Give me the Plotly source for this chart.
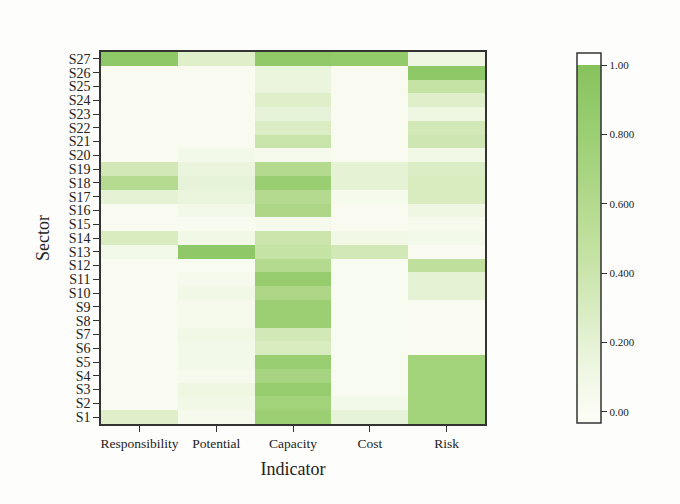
import plotly.graph_objects as go

indicators = ["Responsibility", "Potential", "Capacity", "Cost", "Risk"]
sectors = [f"S{i}" for i in range(1, 28)]

# Scores per indicator, listed S1 .. S27
responsibility = [0.25, 0.02, 0.02, 0.02, 0.02, 0.02, 0.02, 0.02, 0.02, 0.02,
                  0.02, 0.02, 0.08, 0.30, 0.02, 0.02, 0.20, 0.58, 0.35, 0.02,
                  0.02, 0.02, 0.02, 0.02, 0.02, 0.02, 0.92]
potential = [0.05, 0.10, 0.12, 0.05, 0.08, 0.08, 0.10, 0.05, 0.05, 0.10,
             0.05, 0.03, 0.92, 0.10, 0.03, 0.08, 0.15, 0.18, 0.15, 0.08,
             0.02, 0.02, 0.02, 0.02, 0.02, 0.02, 0.25]
capacity = [0.80, 0.75, 0.85, 0.70, 0.82, 0.30, 0.35, 0.80, 0.80, 0.65,
            0.85, 0.60, 0.45, 0.40, 0.05, 0.65, 0.60, 0.82, 0.60, 0.05,
            0.42, 0.28, 0.18, 0.25, 0.15, 0.15, 0.90]
cost = [0.18, 0.08, 0.03, 0.03, 0.03, 0.03, 0.03, 0.03, 0.03, 0.03,
        0.03, 0.03, 0.35, 0.10, 0.02, 0.02, 0.05, 0.20, 0.20, 0.02,
        0.02, 0.02, 0.02, 0.02, 0.02, 0.02, 0.88]
risk = [0.75, 0.75, 0.75, 0.75, 0.75, 0.02, 0.02, 0.02, 0.02, 0.20,
        0.20, 0.50, 0.02, 0.08, 0.05, 0.12, 0.30, 0.30, 0.28, 0.10,
        0.38, 0.35, 0.12, 0.25, 0.45, 0.92, 0.12]

cbar_ticks = [0.0, 0.2, 0.4, 0.6, 0.8, 1.0]
cbar_labels = ["0.00", "0.200", "0.400", "0.600", "0.800", "1.00"]

z = [list(row) for row in zip(responsibility, potential, capacity, cost, risk)]

zmin, zmax = -0.032, 1.035

greens = ["#fbfcf4", "#f1f8e6", "#e5f2d4", "#d8ecc0", "#cbe5ad", "#bfe09c",
          "#b3da8e", "#a7d480", "#9ccf74", "#91c968", "#86c25c"]


def pos(v):
    return (v - zmin) / (zmax - zmin)


colorscale = [[0.0, greens[0]]]
for i, c in enumerate(greens):
    colorscale.append([pos(i / 10), c])
colorscale.append([pos(1.0) + 0.001, "#ffffff"])
colorscale.append([1.0, "#ffffff"])

serif = "Liberation Serif, Times New Roman, serif"

fig = go.Figure(go.Heatmap(
    x=indicators,
    y=sectors,
    z=z,
    zmin=zmin,
    zmax=zmax,
    colorscale=colorscale,
    xgap=0, ygap=0,
    colorbar=dict(
        x=(577 - 101) / 384, xanchor="left", xpad=0,
        y=0.5, yanchor="middle", ypad=0,
        len=370, lenmode="pixels",
        thickness=24, thicknessmode="pixels",
        outlinecolor="#333333", outlinewidth=1.5,
        tickmode="array", tickvals=cbar_ticks, ticktext=cbar_labels,
        ticks="outside", ticklen=6, tickcolor="#333333", tickwidth=1.2,
        tickfont=dict(family=serif, size=11, color="#222222"),
    ),
))

fig.update_layout(
    width=680, height=504,
    margin=dict(l=101, r=195, t=52, b=80),
    paper_bgcolor="#fdfdfb",
    plot_bgcolor="#fdfdfb",
    font=dict(family=serif, color="#222222"),
)

fig.update_xaxes(
    title=dict(text="Indicator", font=dict(family=serif, size=18), standoff=12),
    tickfont=dict(family=serif, size=13.5),
    ticks="outside", ticklen=6, tickcolor="#333333", tickwidth=1.2,
    showline=True, linecolor="#333333", linewidth=1.5, mirror=True,
    showgrid=False, zeroline=False,
)
fig.update_yaxes(
    title=dict(text="Sector", font=dict(family=serif, size=18), standoff=14),
    tickmode="array", tickvals=sectors, ticktext=sectors,
    tickfont=dict(family=serif, size=14),
    ticks="outside", ticklen=6, tickcolor="#333333", tickwidth=1.2,
    showline=True, linecolor="#333333", linewidth=1.5, mirror=True,
    showgrid=False, zeroline=False,
)

fig.write_html("out.html")
